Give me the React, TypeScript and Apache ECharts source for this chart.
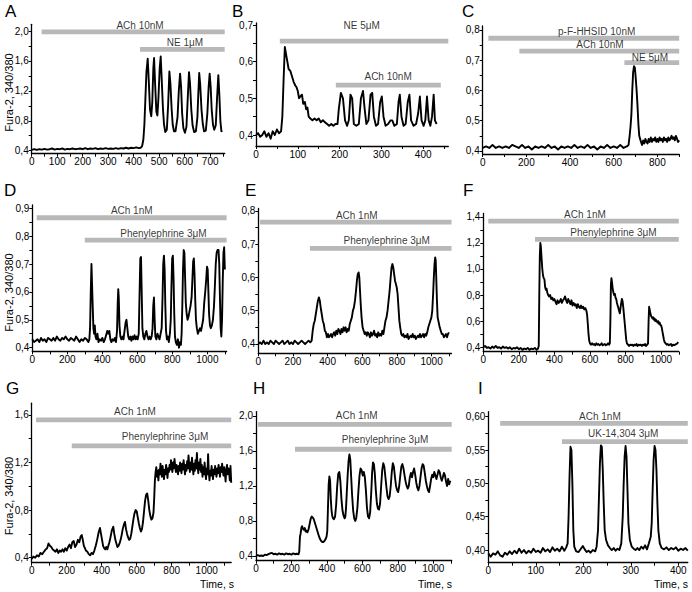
import React, { useEffect, useRef } from "react";
import * as echarts from "echarts";

const FONT = '"Liberation Sans", Arial, Helvetica, sans-serif';

// ---------- traces (time s, Fura-2 340/380) ----------
const traceA: number[][] = [
  [0,0.41],[10,0.42],[20,0.41],[30,0.42],[40,0.415],[50,0.425],[60,0.415],[70,0.42],[80,0.43],[90,0.415],[100,0.425],[110,0.42],[120,0.43],[130,0.415],[140,0.425],[150,0.42],[160,0.43],[170,0.42],[180,0.425],[190,0.43],[200,0.42],[210,0.435],[220,0.42],[230,0.43],[240,0.425],[250,0.435],[260,0.42],[270,0.43],[280,0.425],[290,0.435],[300,0.425],[310,0.43],[320,0.425],[330,0.435],[340,0.425],[350,0.435],[360,0.43],[370,0.44],[380,0.43],[390,0.44],[400,0.435],[410,0.445],[420,0.435],[428,0.44],
  [433,0.46],[438,0.55],[442,0.75],[446,1.1],[450,1.45],[455,1.63],[459,1.35],[464,0.95],[469,0.86],[473,1.05],[477,1.5],[480,1.64],[484,1.3],[489,0.92],[493,0.87],[497,1.1],[502,1.5],[506,1.66],[510,1.35],[515,0.95],[519,0.75],[524,0.65],[530,0.68],[535,1.0],[540,1.46],[544,1.3],[549,0.95],[553,0.75],[558,0.66],[564,0.66],[572,0.85],[577,1.2],[582,1.43],[586,1.25],[590,0.9],[595,0.7],[601,0.64],[607,0.72],[612,1.1],[617,1.45],[621,1.3],[626,0.95],[631,0.74],[637,0.65],[644,0.66],[650,0.85],[654,1.2],[657,1.44],[661,1.28],[666,0.95],[671,0.76],[676,0.66],[683,0.67],[689,0.9],[694,1.25],[698,1.43],[702,1.25],[706,0.95],[711,0.75],[716,0.68],[722,0.74],[727,1.1],[732,1.41],[736,1.15],[740,0.8],[744,0.66],[748,0.67]
];

const traceB: number[][] = [
  [0,0.40],[5,0.405],[10,0.395],[15,0.40],[20,0.41],[25,0.395],[30,0.405],[35,0.39],[40,0.41],[45,0.40],[50,0.415],[55,0.405],[60,0.41],[63,0.45],[66,0.55],[69,0.64],[72,0.62],[75,0.60],[78,0.58],[82,0.575],[86,0.56],[90,0.545],[94,0.535],[97,0.53],[100,0.52],[103,0.50],[106,0.505],[110,0.51],[113,0.485],[117,0.49],[120,0.47],[123,0.475],[126,0.45],[130,0.445],[135,0.44],[140,0.445],[145,0.44],[150,0.445],[155,0.435],[160,0.44],[165,0.435],[170,0.43],[175,0.425],[180,0.43],[185,0.425],[190,0.43],[195,0.43],
  [198,0.47],[203,0.515],[208,0.50],[213,0.44],[218,0.425],[222,0.44],[226,0.51],[230,0.50],[234,0.43],[240,0.425],[246,0.43],[251,0.50],[256,0.52],[260,0.47],[264,0.43],[269,0.44],[274,0.51],[278,0.515],[282,0.45],[287,0.425],[292,0.43],[297,0.49],[301,0.505],[305,0.45],[310,0.425],[316,0.43],[322,0.44],[326,0.44],[331,0.425],[337,0.43],[341,0.49],[344,0.51],[348,0.45],[353,0.425],[358,0.43],[363,0.49],[367,0.51],[371,0.44],[377,0.425],[383,0.43],[388,0.46],[392,0.505],[396,0.44],[401,0.425],[405,0.44],[409,0.505],[413,0.44],[417,0.425],[421,0.45],[425,0.51],[428,0.44],[432,0.43]
];

const traceC: number[][] = [
  [0,0.41],[15,0.415],[30,0.41],[45,0.42],[60,0.41],[75,0.415],[90,0.41],[105,0.415],[120,0.41],[135,0.42],[150,0.415],[165,0.41],[180,0.42],[195,0.41],[210,0.415],[225,0.405],[240,0.415],[255,0.41],[270,0.415],[285,0.41],[300,0.42],[315,0.41],[330,0.415],[345,0.405],[360,0.415],[375,0.41],[390,0.415],[405,0.41],[420,0.42],[435,0.41],[450,0.415],[465,0.41],[480,0.42],[495,0.41],[510,0.415],[525,0.405],[540,0.415],[555,0.41],[570,0.42],[585,0.41],[600,0.415],[615,0.41],[630,0.42],[645,0.41],[660,0.415],[668,0.42],[673,0.45],[677,0.48],[681,0.52],[685,0.6],[689,0.66],[693,0.68],[697,0.675],[701,0.64],[705,0.60],[709,0.55],[713,0.49],[717,0.45],[721,0.44],[725,0.43],[730,0.42],[735,0.435],[740,0.425],[745,0.44],[750,0.43],[755,0.425],[760,0.44],[765,0.43],[770,0.445],[775,0.43],[780,0.44],[785,0.435],[790,0.445],[795,0.43],[800,0.44],[805,0.43],[810,0.445],[815,0.435],[820,0.44],[825,0.43],[830,0.445],[835,0.435],[840,0.44],[845,0.43],[850,0.445],[855,0.435],[860,0.44],[865,0.45],[870,0.44],[875,0.445],[880,0.435],[885,0.45],[890,0.44],[895,0.43],[900,0.435]
];

const traceD: number[][] = [
  [0,0.43],[10,0.42],[20,0.425],[30,0.43],[40,0.42],[50,0.435],[60,0.425],[70,0.43],[80,0.42],[90,0.435],[100,0.43],[110,0.425],[120,0.435],[130,0.425],[140,0.44],[150,0.43],[160,0.425],[170,0.435],[180,0.43],[190,0.44],[200,0.43],[210,0.425],[220,0.435],[230,0.43],[240,0.425],[250,0.44],[260,0.43],[270,0.42],[280,0.43],[290,0.425],[300,0.435],[310,0.43],[320,0.42],[326,0.43],
  [330,0.47],[334,0.6],[338,0.70],[341,0.70],[345,0.55],[349,0.47],[353,0.45],[357,0.48],[361,0.44],[366,0.43],[372,0.45],[378,0.42],[385,0.43],[392,0.425],[400,0.435],[408,0.42],[415,0.43],[422,0.445],[428,0.46],[434,0.45],[440,0.46],[446,0.43],[452,0.42],[458,0.43],[465,0.425],[472,0.435],[478,0.42],[484,0.46],[488,0.56],[491,0.61],[494,0.58],[498,0.48],[503,0.44],[509,0.43],[515,0.44],[521,0.43],[527,0.46],[533,0.49],[538,0.50],[543,0.47],[548,0.44],[554,0.43],[560,0.44],[566,0.425],[572,0.44],[578,0.43],[584,0.445],[590,0.43],[596,0.44],[602,0.43],[608,0.45],[613,0.6],[617,0.72],[621,0.725],[625,0.6],[629,0.47],[634,0.44],[640,0.43],[646,0.45],[652,0.46],[658,0.44],[664,0.43],[670,0.44],[676,0.43],[682,0.44],[687,0.47],[691,0.55],[695,0.58],[699,0.5],[703,0.44],[709,0.43],[715,0.45],[721,0.44],[727,0.43],[733,0.45],[739,0.47],[744,0.58],[748,0.70],[752,0.73],[756,0.68],[760,0.55],[764,0.46],[769,0.43],[774,0.44],[780,0.42],[786,0.45],[791,0.5],[795,0.62],[799,0.72],[803,0.73],[807,0.65],[811,0.52],[815,0.44],[820,0.42],[826,0.41],[832,0.43],[838,0.40],[844,0.42],[849,0.41],[853,0.45],[857,0.55],[861,0.68],[865,0.75],[869,0.74],[873,0.65],[877,0.56],[882,0.52],[887,0.50],[892,0.51],[898,0.53],[904,0.55],[910,0.58],[915,0.65],[919,0.71],[923,0.72],[927,0.66],[931,0.57],[935,0.50],[940,0.47],[946,0.45],[952,0.46],[958,0.47],[964,0.46],[970,0.48],[976,0.50],[982,0.56],[988,0.60],[994,0.65],[998,0.69],[1002,0.68],[1006,0.60],[1010,0.52],[1015,0.48],[1020,0.47],[1026,0.48],[1032,0.50],[1038,0.55],[1043,0.62],[1048,0.70],[1053,0.74],[1058,0.75],[1064,0.75],[1068,0.70],[1072,0.58],[1076,0.47],[1080,0.44],[1084,0.5],[1088,0.64],[1092,0.74],[1096,0.76],[1100,0.68]
];

const traceE: number[][] = [
  [0,0.40],[10,0.405],[20,0.40],[30,0.41],[40,0.40],[50,0.405],[60,0.40],[70,0.41],[80,0.405],[90,0.40],[100,0.41],[110,0.405],[120,0.40],[130,0.405],[140,0.41],[150,0.40],[160,0.405],[170,0.41],[180,0.40],[190,0.405],[200,0.40],[210,0.41],[220,0.405],[230,0.40],[240,0.405],[250,0.41],[260,0.405],[270,0.40],[280,0.405],[290,0.41],[300,0.405],[308,0.41],
  [314,0.44],[320,0.46],[326,0.47],[332,0.49],[338,0.51],[344,0.53],[350,0.54],[355,0.53],[360,0.51],[366,0.49],[372,0.47],[378,0.46],[384,0.44],[390,0.435],[396,0.42],[402,0.43],[408,0.42],[414,0.425],[420,0.43],[426,0.42],[432,0.43],[438,0.435],[444,0.425],[450,0.44],[456,0.43],[462,0.445],[468,0.44],[474,0.43],[480,0.445],[486,0.435],[492,0.45],[498,0.44],[504,0.45],[510,0.435],[516,0.445],[522,0.44],[528,0.46],[534,0.47],[540,0.48],[546,0.50],[552,0.51],[558,0.53],[564,0.56],[569,0.59],[574,0.61],[579,0.615],[583,0.60],[587,0.56],[591,0.52],[596,0.48],[602,0.45],[608,0.44],[614,0.43],[620,0.435],[626,0.425],[632,0.435],[638,0.43],[644,0.42],[650,0.435],[656,0.425],[662,0.43],[668,0.44],[674,0.425],[680,0.43],[686,0.42],[692,0.435],[698,0.425],[704,0.43],[710,0.425],[716,0.44],[722,0.43],[728,0.45],[734,0.47],[740,0.48],[746,0.50],[752,0.53],[758,0.56],[764,0.60],[769,0.63],[774,0.64],[779,0.63],[784,0.61],[789,0.59],[794,0.58],[799,0.57],[804,0.55],[809,0.51],[814,0.47],[819,0.45],[825,0.43],[831,0.425],[837,0.43],[843,0.42],[849,0.425],[855,0.42],[861,0.43],[867,0.415],[873,0.42],[879,0.425],[885,0.42],[891,0.43],[897,0.42],[903,0.425],[909,0.415],[915,0.42],[921,0.425],[927,0.42],[933,0.43],[939,0.42],[945,0.425],[951,0.43],[957,0.42],[963,0.43],[969,0.425],[975,0.435],[981,0.45],[987,0.46],[993,0.47],[999,0.48],[1004,0.50],[1009,0.55],[1013,0.60],[1017,0.64],[1021,0.66],[1024,0.65],[1027,0.60],[1031,0.53],[1035,0.48],[1039,0.47],[1043,0.46],[1047,0.45],[1053,0.44],[1059,0.43],[1065,0.43],[1071,0.42],[1077,0.425],[1083,0.43],[1089,0.42],[1095,0.43],[1100,0.435]
];

const traceF: number[][] = [
  [0,0.40],[10,0.41],[20,0.395],[30,0.40],[40,0.39],[50,0.405],[60,0.395],[70,0.41],[80,0.395],[90,0.40],[100,0.39],[110,0.405],[120,0.395],[130,0.40],[140,0.39],[150,0.40],[160,0.385],[170,0.395],[180,0.39],[190,0.40],[200,0.385],[210,0.395],[220,0.38],[230,0.39],[240,0.385],[250,0.395],[260,0.38],[270,0.39],[280,0.385],[290,0.395],[300,0.38],[308,0.39],[312,0.41],
  [315,0.8],[318,1.1],[321,1.2],[324,1.17],[328,1.08],[332,1.0],[336,0.95],[340,0.93],[344,0.92],[348,0.86],[352,0.84],[356,0.85],[360,0.82],[365,0.80],[370,0.79],[376,0.80],[382,0.77],[388,0.78],[394,0.76],[400,0.77],[406,0.75],[412,0.73],[418,0.76],[424,0.74],[430,0.75],[436,0.77],[442,0.74],[448,0.76],[454,0.77],[460,0.79],[466,0.76],[472,0.74],[478,0.77],[484,0.75],[490,0.73],[496,0.76],[502,0.72],[508,0.74],[514,0.72],[520,0.73],[526,0.70],[532,0.73],[538,0.71],[544,0.70],[550,0.72],[556,0.70],[562,0.71],[568,0.69],[574,0.70],[580,0.68],[584,0.65],[588,0.58],[592,0.50],[596,0.45],[600,0.43],[606,0.42],[612,0.43],[618,0.42],[624,0.425],[630,0.415],[636,0.43],[642,0.42],[648,0.425],[654,0.415],[660,0.42],[666,0.43],[672,0.415],[678,0.42],[684,0.425],[690,0.415],[696,0.42],[702,0.43],[708,0.42],[712,0.43],
  [715,0.6],[718,0.88],[721,0.93],[724,0.90],[728,0.85],[732,0.82],[736,0.80],[740,0.81],[744,0.78],[748,0.77],[752,0.74],[756,0.72],[760,0.70],[764,0.68],[768,0.66],[772,0.70],[776,0.74],[780,0.77],[784,0.75],[788,0.70],[792,0.64],[796,0.58],[800,0.52],[804,0.46],[808,0.43],[814,0.42],[820,0.41],[826,0.42],[832,0.415],[838,0.42],[844,0.41],[850,0.42],[856,0.415],[862,0.425],[868,0.41],[874,0.42],[880,0.415],[886,0.42],[892,0.41],[898,0.42],[904,0.415],[910,0.425],[916,0.41],[922,0.42],[927,0.43],
  [930,0.60],[933,0.71],[936,0.69],[940,0.66],[944,0.64],[948,0.63],[952,0.62],[956,0.63],[960,0.61],[964,0.62],[968,0.60],[972,0.61],[976,0.60],[980,0.59],[984,0.60],[988,0.58],[992,0.59],[996,0.57],[1000,0.57],[1004,0.55],[1008,0.52],[1012,0.49],[1016,0.46],[1020,0.44],[1026,0.43],[1032,0.42],[1038,0.425],[1044,0.415],[1050,0.42],[1056,0.425],[1062,0.41],[1068,0.42],[1074,0.415],[1080,0.42],[1086,0.425],[1092,0.43],[1096,0.44]
];

const traceG: number[][] = [
  [0,0.39],[10,0.41],[20,0.40],[30,0.42],[40,0.41],[50,0.44],[60,0.43],[70,0.45],[80,0.47],[88,0.48],[96,0.52],[104,0.50],[112,0.49],[120,0.47],[128,0.46],[136,0.45],[144,0.47],[152,0.44],[160,0.46],[168,0.45],[176,0.47],[184,0.45],[192,0.48],[200,0.46],[208,0.49],[216,0.51],[224,0.48],[232,0.53],[240,0.54],[248,0.49],[256,0.51],[264,0.55],[272,0.53],[280,0.58],[286,0.59],[292,0.55],[298,0.50],[304,0.48],[310,0.46],[318,0.45],[326,0.43],[334,0.42],[342,0.44],[350,0.43],[358,0.46],[366,0.50],[374,0.55],[382,0.61],[390,0.65],[396,0.60],[402,0.55],[408,0.50],[414,0.48],[420,0.47],[426,0.49],[432,0.47],[438,0.50],[444,0.53],[450,0.57],[458,0.63],[466,0.66],[472,0.60],[478,0.55],[484,0.52],[490,0.49],[496,0.50],[502,0.52],[508,0.55],[514,0.59],[520,0.64],[527,0.68],[533,0.70],[539,0.64],[545,0.60],[551,0.57],[557,0.55],[563,0.56],[569,0.60],[575,0.66],[581,0.72],[587,0.77],[594,0.80],[600,0.79],[606,0.74],[612,0.69],[618,0.65],[624,0.62],[630,0.64],[636,0.70],[642,0.79],[648,0.88],[654,0.93],[660,0.94],[666,0.88],[672,0.80],[678,0.75],[684,0.72],[690,0.73],[696,0.78],[700,0.90],[704,1.05],[708,1.12],
  [712,1.16],[716,1.08],[720,1.13],[724,1.05],[728,1.14],[732,1.10],[736,1.19],[740,1.12],[744,1.08],[748,1.17],[752,1.11],[756,1.06],[760,1.14],[764,1.10],[768,1.18],[772,1.13],[776,1.07],[780,1.15],[784,1.12],[788,1.18],[792,1.14],[796,1.22],[800,1.16],[804,1.12],[808,1.20],[812,1.15],[816,1.23],[820,1.17],[824,1.12],[828,1.18],[832,1.14],[836,1.10],[840,1.17],[844,1.13],[848,1.20],[852,1.15],[856,1.11],[860,1.19],[864,1.14],[868,1.22],[872,1.16],[876,1.10],[880,1.18],[884,1.13],[888,1.21],[892,1.15],[896,1.26],[900,1.18],[904,1.12],[908,1.20],[912,1.14],[916,1.24],[920,1.16],[924,1.10],[928,1.19],[932,1.13],[936,1.22],[940,1.15],[944,1.28],[948,1.17],[952,1.11],[956,1.20],[960,1.14],[964,1.23],[968,1.12],[972,1.18],[976,1.08],[980,1.16],[984,1.10],[988,1.20],[992,1.12],[996,1.06],[1000,1.15],[1004,1.10],[1008,1.27],[1012,1.12],[1016,1.05],[1020,1.13],[1024,1.09],[1028,1.17],[1032,1.11],[1036,1.06],[1040,1.14],[1044,1.10],[1048,1.17],[1052,1.12],[1056,1.08],[1060,1.15],[1064,1.11],[1068,1.18],[1072,1.13],[1076,1.08],[1080,1.16],[1084,1.12],[1088,1.19],[1092,1.13],[1096,1.09],[1100,1.16],[1104,1.11],[1108,1.04],[1112,1.14],[1116,1.18],[1120,1.10],[1124,1.15],[1128,1.12],[1132,1.05],[1136,1.17],[1140,1.03]
];

const traceH: number[][] = [
  [0,0.40],[10,0.41],[20,0.40],[30,0.405],[40,0.40],[50,0.415],[60,0.41],[70,0.42],[80,0.43],[90,0.435],[100,0.42],[110,0.425],[120,0.415],[130,0.43],[140,0.42],[150,0.425],[160,0.415],[170,0.43],[180,0.42],[190,0.425],[200,0.415],[210,0.43],[220,0.42],[230,0.425],[240,0.42],
  [244,0.45],[248,0.62],[252,0.66],[256,0.72],[260,0.74],[265,0.71],[270,0.70],[275,0.72],[280,0.68],[285,0.69],[290,0.67],[296,0.70],[302,0.76],[308,0.82],[314,0.85],[320,0.84],[326,0.82],[332,0.78],[338,0.74],[344,0.70],[350,0.66],[356,0.62],[362,0.59],[368,0.57],[374,0.56],[380,0.56],[386,0.57],[392,0.59],[398,0.62],[402,0.68],[406,0.95],[410,1.22],[414,1.31],[418,1.26],[422,1.05],[426,0.92],[430,0.86],[434,0.83],[440,0.82],[446,0.85],[452,0.98],[458,1.20],[464,1.34],[470,1.36],[476,1.25],[482,1.05],[488,0.92],[494,0.86],[500,0.83],[504,0.85],[508,0.95],[512,1.12],[517,1.32],[522,1.48],[527,1.56],[532,1.50],[537,1.30],[542,1.10],[548,0.92],[554,0.83],[560,0.80],[566,0.84],[572,0.95],[578,1.15],[584,1.32],[590,1.40],[596,1.38],[602,1.32],[608,1.36],[614,1.30],[620,1.15],[626,0.95],[632,0.85],[638,0.83],[644,0.90],[650,1.12],[655,1.35],[660,1.47],[665,1.45],[670,1.35],[676,1.15],[682,1.00],[688,0.94],[694,0.93],[700,1.00],[706,1.20],[712,1.38],[718,1.46],[724,1.42],[730,1.30],[736,1.18],[742,1.08],[748,1.05],[754,1.08],[760,1.20],[766,1.36],[772,1.46],[778,1.42],[784,1.30],[790,1.20],[796,1.15],[802,1.13],[808,1.20],[814,1.32],[820,1.42],[826,1.45],[832,1.40],[838,1.32],[844,1.25],[850,1.20],[856,1.17],[862,1.20],[868,1.30],[874,1.35],[880,1.30],[886,1.36],[892,1.40],[898,1.33],[904,1.24],[910,1.18],[916,1.15],[922,1.20],[928,1.30],[934,1.40],[940,1.45],[946,1.43],[952,1.35],[958,1.26],[964,1.20],[970,1.15],[976,1.13],[982,1.20],[988,1.28],[994,1.33],[1000,1.30],[1006,1.36],[1012,1.32],[1018,1.28],[1024,1.33],[1030,1.38],[1036,1.36],[1042,1.30],[1048,1.26],[1054,1.30],[1060,1.35],[1066,1.32],[1072,1.25],[1078,1.20],[1084,1.28],[1090,1.22],[1096,1.26]
];

const traceI: number[][] = [
  [0,0.395],[5,0.39],[10,0.395],[15,0.393],[20,0.398],[25,0.392],[30,0.39],[35,0.396],[40,0.393],[45,0.398],[50,0.394],[55,0.399],[60,0.395],[65,0.402],[70,0.396],[75,0.4],[80,0.395],[85,0.399],[90,0.396],[95,0.402],[100,0.397],[105,0.399],[110,0.396],[115,0.403],[120,0.398],[125,0.401],[130,0.397],[135,0.404],[140,0.399],[145,0.402],[150,0.398],[155,0.405],[160,0.399],[164,0.404],
  [167,0.41],[169,0.45],[171,0.51],[173,0.555],[175,0.55],[177,0.50],[179,0.43],[181,0.405],[185,0.398],[190,0.397],[195,0.402],[199,0.406],[203,0.401],[207,0.397],[211,0.399],[215,0.396],[220,0.4],[225,0.398],[228,0.405],[231,0.43],[233,0.48],[235,0.53],[237,0.557],[239,0.555],[241,0.52],[243,0.47],[245,0.43],[248,0.415],[252,0.407],[256,0.403],[260,0.4],[264,0.403],[268,0.399],[272,0.402],[276,0.4],[280,0.41],[283,0.45],[285,0.50],[287,0.54],[289,0.556],[291,0.54],[293,0.49],[295,0.44],[298,0.415],[302,0.405],[306,0.402],[310,0.4],[314,0.403],[318,0.4],[322,0.405],[326,0.402],[330,0.407],[334,0.401],[338,0.41],[342,0.42],[344,0.44],[346,0.49],[348,0.535],[350,0.556],[352,0.55],[354,0.52],[356,0.47],[358,0.43],[361,0.41],[365,0.403],[370,0.401],[375,0.404],[380,0.4],[385,0.403],[390,0.401],[395,0.404],[400,0.399],[405,0.402],[410,0.4],[415,0.403],[420,0.399]
];

// ---------- drug application bars ----------
type Drug = { name: string; from: number; to: number; level: number; labelAt: number };
const drugsA: Drug[] = [
  { name: "ACh 10nM", from: 39, to: 757, level: 1.99, labelAt: 425 },
  { name: "NE 1\u03bcM", from: 425, to: 757, level: 1.755, labelAt: 601 },
];
const drugsB: Drug[] = [
  { name: "NE 5\u03bcM", from: 57, to: 460, level: 0.656, labelAt: 253 },
  { name: "ACh 10nM", from: 191, to: 442, level: 0.536, labelAt: 316 },
];
const drugsC: Drug[] = [
  { name: "p-F-HHSID 10nM", from: 26, to: 900, level: 0.7725, labelAt: 522 },
  { name: "ACh 10nM", from: 168, to: 900, level: 0.73, labelAt: 537 },
  { name: "NE 5\u03bcM", from: 649, to: 900, level: 0.692, labelAt: 766 },
];
const drugsD: Drug[] = [
  { name: "ACh 1nM", from: 25, to: 1110, level: 0.866, labelAt: 568 },
  { name: "Phenylephrine 3\u03bcM", from: 300, to: 1110, level: 0.786, labelAt: 749 },
];
const drugsE: Drug[] = [
  { name: "ACh 1nM", from: 10, to: 1115, level: 0.766, labelAt: 568 },
  { name: "Phenylephrine 3\u03bcM", from: 298, to: 1115, level: 0.687, labelAt: 741 },
];
const drugsF: Drug[] = [
  { name: "ACh 1nM", from: 28, to: 1100, level: 1.367, labelAt: 572 },
  { name: "Phenylephrine 3\u03bcM", from: 291, to: 1100, level: 1.227, labelAt: 732 },
];
const drugsG: Drug[] = [
  { name: "ACh 1nM", from: 25, to: 1140, level: 1.558, labelAt: 590 },
  { name: "Phenylephrine 3\u03bcM", from: 229, to: 1140, level: 1.34, labelAt: 762 },
];
const drugsH: Drug[] = [
  { name: "ACh 1nM", from: 11, to: 1104, level: 1.905, labelAt: 568 },
  { name: "Phenylephrine 3\u03bcM", from: 220, to: 1104, level: 1.62, labelAt: 728 },
];
const drugsI: Drug[] = [
  { name: "ACh 1nM", from: 25, to: 420, level: 0.59, labelAt: 235 },
  { name: "UK-14,304 3\u03bcM", from: 155, to: 420, level: 0.5625, labelAt: 284 },
];

const yAxisTitle = "Fura-2, 340/380";
const xAxisTitle = "Time, s";

function seq(a: number, b: number, s: number): number[] {
  const out: number[] = [];
  for (let k = 0; a + k * s <= b + 1e-9; k++) out.push(Math.round((a + k * s) * 1000) / 1000);
  return out;
}

const panels = [
  { letter: "A", lp: [5, 3], grid: { left: 31.7, top: 24.3, width: 193, height: 129.4 }, xMax: 757, yMin: 0.36, yMax: 2.09,
    xLab: seq(0, 700, 100), xTick: seq(0, 750, 50), yLab: seq(0.4, 2.0, 0.4), yTick: seq(0.4, 2.0, 0.2), dec: 1,
    trace: traceA, drugs: drugsA, dy: [-6, -7], yName: 92.5, time: 0 },
  { letter: "B", lp: [232, 3], grid: { left: 256, top: 22.8, width: 192.3, height: 123.2 }, xMax: 460, yMin: 0.37, yMax: 0.706,
    xLab: seq(0, 400, 100), xTick: seq(0, 450, 50), yLab: seq(0.4, 0.7, 0.1), yTick: seq(0.4, 0.7, 0.05), dec: 1,
    trace: traceB, drugs: drugsB, dy: [-16, -8.3], yName: 0, time: 0 },
  { letter: "C", lp: [462, 3], grid: { left: 482.7, top: 26, width: 196.5, height: 128 }, xMax: 900, yMin: 0.39, yMax: 0.813,
    xLab: seq(0, 800, 200), xTick: seq(0, 900, 100), yLab: seq(0.4, 0.8, 0.1), yTick: seq(0.4, 0.8, 0.05), dec: 1,
    trace: traceC, drugs: drugsC, dy: [-6.6, -6.7, -5.6], yName: 0, time: 0 },
  { letter: "D", lp: [4, 182], grid: { left: 32.3, top: 204.9, width: 194.3, height: 146.4 }, xMax: 1110, yMin: 0.387, yMax: 0.912,
    xLab: seq(0, 1000, 200), xTick: seq(0, 1100, 100), yLab: seq(0.4, 0.9, 0.1), yTick: seq(0.4, 0.9, 0.05), dec: 1,
    trace: traceD, drugs: drugsD, dy: [-7, -6.8], yName: 292.5, time: 0 },
  { letter: "E", lp: [245, 182], grid: { left: 258.3, top: 208.5, width: 193.2, height: 144.8 }, xMax: 1115, yMin: 0.372, yMax: 0.807,
    xLab: seq(0, 1000, 200), xTick: seq(0, 1100, 100), yLab: seq(0.4, 0.8, 0.1), yTick: seq(0.4, 0.8, 0.05), dec: 1,
    trace: traceE, drugs: drugsE, dy: [-7, -8.3], yName: 0, time: 0 },
  { letter: "F", lp: [463, 182], grid: { left: 483.3, top: 213.4, width: 195.5, height: 138.3 }, xMax: 1100, yMin: 0.366, yMax: 1.426,
    xLab: seq(0, 1000, 200), xTick: seq(0, 1100, 100), yLab: seq(0.4, 1.4, 0.2), yTick: seq(0.4, 1.4, 0.1), dec: 1,
    trace: traceF, drugs: drugsF, dy: [-7, -6.8], yName: 0, time: 0 },
  { letter: "G", lp: [6, 380], grid: { left: 31.7, top: 403.2, width: 199.5, height: 159.5 }, xMax: 1140, yMin: 0.358, yMax: 1.698,
    xLab: seq(0, 1000, 200), xTick: seq(0, 1100, 100), yLab: seq(0.4, 1.6, 0.4), yTick: seq(0.4, 1.6, 0.2), dec: 1,
    trace: traceG, drugs: drugsG, dy: [-8.3, -9.3], yName: 496, time: 234 },
  { letter: "H", lp: [253, 380], grid: { left: 256, top: 411.6, width: 195.7, height: 149.1 }, xMax: 1104, yMin: 0.346, yMax: 2.05,
    xLab: seq(0, 1000, 200), xTick: seq(0, 1100, 100), yLab: seq(0.4, 2.0, 0.4), yTick: seq(0.4, 2.0, 0.2), dec: 1,
    trace: traceH, drugs: drugsH, dy: [-8.3, -9.3], yName: 0, time: 452 },
  { letter: "I", lp: [478, 380], grid: { left: 488.3, top: 411.7, width: 199.5, height: 151 }, xMax: 420, yMin: 0.381, yMax: 0.6075,
    xLab: seq(0, 400, 100), xTick: seq(0, 400, 50), yLab: seq(0.4, 0.6, 0.05), yTick: seq(0.4, 0.6, 0.025), dec: 2,
    trace: traceI, drugs: drugsI, dy: [-7.3, -8.3], yName: 0, time: 688 },
];

export default function App() {
  const ref = useRef<HTMLDivElement>(null);
  useEffect(() => {
    if (!ref.current) return;
    const chart = echarts.init(ref.current, null, { renderer: "svg" });
    const grid: any[] = [];
    const xAxis: any[] = [];
    const yAxis: any[] = [];
    const series: any[] = [];
    const elements: any[] = [];
    const axisLineStyle = { color: "#000", width: 1.3 };
    panels.forEach((p, i) => {
      grid.push({ ...p.grid, containLabel: false });
      xAxis.push({
        gridIndex: i, type: "value", min: 0, max: p.xMax, position: "bottom",
        axisLine: { show: true, onZero: false, lineStyle: axisLineStyle },
        axisTick: { show: true, customValues: p.xTick, length: 3, lineStyle: { color: "#000", width: 1 } },
        axisLabel: { show: true, customValues: p.xLab, fontSize: 10, fontFamily: FONT, color: "#000", margin: 3,
          formatter: (v: number) => String(Math.round(v)) },
        splitLine: { show: false },
      });
      yAxis.push({
        gridIndex: i, type: "value", min: p.yMin, max: p.yMax, position: "left",
        axisLine: { show: true, onZero: false, lineStyle: axisLineStyle },
        axisTick: { show: true, customValues: p.yTick, length: 3, lineStyle: { color: "#000", width: 1 } },
        axisLabel: { show: true, customValues: p.yLab, fontSize: 10, fontFamily: FONT, color: "#000", margin: 3,
          formatter: (v: number) => v.toFixed(p.dec).replace(".", ",") },
        splitLine: { show: false },
      });
      p.drugs.forEach((d) => {
        series.push({
          type: "line", xAxisIndex: i, yAxisIndex: i, data: [[d.from, d.level], [d.to, d.level]],
          symbol: "none", showSymbol: false, silent: true, z: 2,
          lineStyle: { color: "#b8b8b8", width: 4.8, cap: "butt" },
        });
      });
      series.push({
        type: "line", xAxisIndex: i, yAxisIndex: i, data: p.trace, symbol: "none", showSymbol: false,
        silent: true, z: 3, lineStyle: { color: "#000", width: 1.9, join: "round" },
      });
      series.push({
        type: "scatter", xAxisIndex: i, yAxisIndex: i, symbolSize: 0, silent: true, z: 4,
        itemStyle: { color: "transparent" },
        data: p.drugs.map((d, j) => ({ name: d.name, value: [d.labelAt, d.level], label: { offset: [0, p.dy[j]] } })),
        label: { show: true, position: "inside", formatter: "{b}", fontSize: 10, fontFamily: FONT, color: "#000" },
      });
      elements.push({
        type: "text", x: p.lp[0], y: p.lp[1], silent: true,
        style: { text: p.letter, fontSize: 17, fontFamily: FONT, fill: "#000", align: "left", verticalAlign: "top" },
      });
      if (p.yName) {
        elements.push({
          type: "text", x: 8.5, y: p.yName, rotation: Math.PI / 2, silent: true,
          style: { text: yAxisTitle, fontSize: 11, fontFamily: FONT, fill: "#000", align: "center", verticalAlign: "middle" },
        });
      }
      if (p.time) {
        elements.push({
          type: "text", x: p.time, y: 584, silent: true,
          style: { text: xAxisTitle, fontSize: 10.5, fontFamily: FONT, fill: "#000", align: "right", verticalAlign: "middle" },
        });
      }
    });
    chart.setOption({
      animation: false,
      backgroundColor: "#fff",
      grid, xAxis, yAxis, series,
      graphic: { elements },
    });
    return () => chart.dispose();
  }, []);
  return <div ref={ref} style={{ position: "absolute", left: 0, top: 0, width: 692, height: 592 }} />;
}
